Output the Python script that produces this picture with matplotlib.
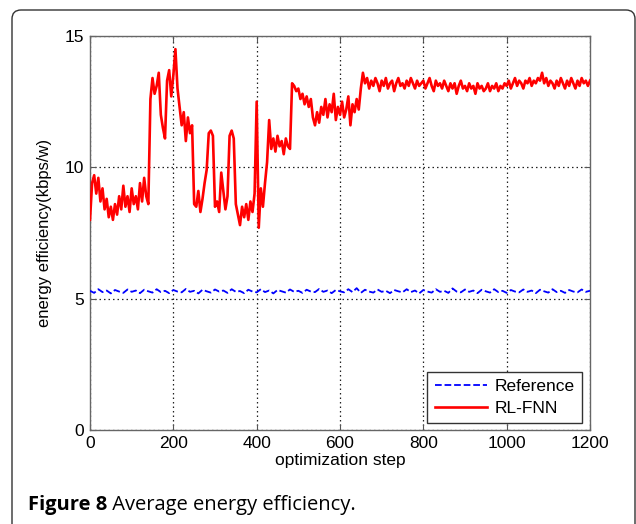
import numpy as np
import matplotlib
matplotlib.use("Agg")
import matplotlib.pyplot as plt
from matplotlib.patches import FancyBboxPatch
from matplotlib.transforms import IdentityTransform

# ---- data ----
red_steps = np.arange(0, 1201, 5)
rl_fnn = [
    8.0, 9.4, 9.7, 9.0, 9.6, 8.7, 9.2, 8.4, 8.8, 8.1,      # 0-45
    8.5, 8.0, 8.6, 8.2, 8.9, 8.4, 9.3, 8.5, 8.9, 8.3,      # 50-95
    9.2, 8.6, 8.9, 8.4, 9.4, 8.7, 9.6, 8.9, 8.6, 12.6,     # 100-145
    13.4, 12.8, 13.1, 13.6, 12.0, 11.5, 11.1, 13.3, 13.7, 12.7,  # 150-195
    13.5, 14.5, 13.0, 12.3, 11.6, 12.1, 11.0, 11.9, 11.3, 11.6,  # 200-245
    8.6, 8.5, 9.1, 8.3, 8.8, 9.4, 9.9, 11.3, 11.4, 11.2,   # 250-295
    8.5, 8.7, 8.3, 9.8, 9.1, 8.4, 8.9, 11.2, 11.4, 11.1,   # 300-345
    8.6, 8.2, 7.8, 8.5, 8.1, 8.6, 8.0, 8.7, 8.3, 9.0,      # 350-395
    12.5, 7.7, 9.2, 8.5, 9.4, 10.2, 11.8, 10.7, 11.1, 10.6,  # 400-445
    11.2, 10.8, 11.0, 10.5, 11.1, 10.8, 10.7, 13.2, 13.1, 12.9,  # 450-495
    13.0, 12.6, 12.8, 12.4, 12.7, 12.3, 12.6, 11.9, 11.6, 12.1,  # 500-545
    11.7, 12.3, 12.0, 12.6, 11.9, 12.4, 12.1, 12.8, 11.8, 12.3,  # 550-595
    12.0, 12.5, 11.9, 12.2, 12.7, 11.6, 12.4, 12.1, 12.6, 12.2,  # 600-645
    13.0, 13.6, 13.2, 13.4, 13.0, 13.3, 13.1, 13.4, 13.2, 12.9,  # 650-695
    13.3, 13.1, 13.4, 13.0, 13.2, 13.3, 12.9, 13.2, 13.4, 13.1,  # 700-745
    13.2, 13.0, 13.3, 13.1, 13.4, 13.2, 13.0, 13.3, 13.1, 13.2,  # 750-795
    13.3, 13.0, 13.2, 13.4, 13.1, 12.9, 13.3, 13.1, 13.2, 13.0,  # 800-845
    13.3, 13.1, 12.9, 13.2, 13.0, 13.2, 12.8, 13.1, 13.3, 13.0,  # 850-895
    13.1, 12.9, 13.2, 13.0, 13.1, 12.8, 13.2, 13.0, 13.1, 12.9,  # 900-945
    13.0, 13.2, 12.9, 13.1, 13.0, 13.2, 12.9, 13.1, 13.0, 13.2,  # 950-995
    13.1, 13.3, 13.0, 13.2, 13.4, 13.1, 13.3, 13.2, 13.0, 13.3,  # 1000-1045
    13.2, 13.4, 13.1, 13.3, 13.2, 13.4, 13.3, 13.6, 13.2, 13.4,  # 1050-1095
    13.1, 13.3, 13.2, 13.0, 13.3, 13.1, 13.4, 13.2, 13.0, 13.3,  # 1100-1145
    13.1, 13.4, 13.2, 13.0, 13.3, 13.1, 13.4, 13.2, 13.3, 13.1,  # 1150-1195
    13.3,                                                  # 1200
]

blue_steps = np.arange(0, 1201, 10)
reference = [
    5.30, 5.22, 5.36, 5.25, 5.31, 5.20, 5.33, 5.27, 5.22, 5.35,
    5.26, 5.31, 5.21, 5.34, 5.28, 5.23, 5.36, 5.25, 5.30, 5.21,
    5.33, 5.27, 5.24, 5.37, 5.26, 5.30, 5.20, 5.34, 5.28, 5.23,
    5.35, 5.27, 5.31, 5.22, 5.36, 5.26, 5.29, 5.21, 5.34, 5.27,
    5.24, 5.36, 5.25, 5.31, 5.20, 5.33, 5.28, 5.23, 5.35, 5.26,
    5.30, 5.22, 5.34, 5.27, 5.25, 5.37, 5.26, 5.31, 5.21, 5.33,
    5.28, 5.24, 5.36, 5.25, 5.40, 5.22, 5.34, 5.27, 5.23, 5.35,
    5.26, 5.30, 5.21, 5.33, 5.28, 5.24, 5.36, 5.25, 5.31, 5.20,
    5.33, 5.27, 5.23, 5.36, 5.26, 5.30, 5.22, 5.39, 5.27, 5.24,
    5.35, 5.26, 5.31, 5.21, 5.34, 5.28, 5.23, 5.36, 5.25, 5.30,
    5.22, 5.33, 5.27, 5.24, 5.35, 5.26, 5.31, 5.21, 5.34, 5.28,
    5.23, 5.36, 5.25, 5.30, 5.22, 5.33, 5.27, 5.24, 5.35, 5.26,
    5.30,
]

x_ticks = [0, 200, 400, 600, 800, 1000, 1200]
y_ticks = [0, 5, 10, 15]
x_label = "optimization step"
y_label = "energy efficiency(kbps/w)"
legend_labels = ["Reference", "RL-FNN"]
caption_bold = "Figure 8"
caption_rest = " Average energy efficiency."

# ---- figure ----
W, H, DPI = 636, 524, 100
fig = plt.figure(figsize=(W / DPI, H / DPI), dpi=DPI)
fig.patch.set_facecolor("white")

# rounded outer frame (pixel coordinates)
frame = FancyBboxPatch((12, -30), 623, 544,
                       boxstyle="round,pad=0,rounding_size=9",
                       transform=IdentityTransform(), fill=False,
                       edgecolor="#333333", linewidth=1.0, zorder=0)
fig.patches.append(frame)

ax = fig.add_axes([90 / W, 1 - 430 / H, 500 / W, 394 / H])
ax.plot(blue_steps, reference, color="#0000ff", linestyle="--",
        linewidth=1.3, label=legend_labels[0], zorder=3)
ax.plot(red_steps, rl_fnn, color="#ff0000", linestyle="-",
        linewidth=1.9, label=legend_labels[1], zorder=4)

ax.set_xlim(0, 1200)
ax.set_ylim(0, 15)
ax.set_xticks(x_ticks)
ax.set_yticks(y_ticks)

tick_font = dict(family="Liberation Sans", size=12.5)
ax.set_xticklabels([str(t) for t in x_ticks], **tick_font)
ax.set_yticklabels([str(t) for t in y_ticks], **tick_font)
ax.tick_params(direction="in", length=4, width=0.8, color="#555555",
               top=True, right=True, pad=4)
for s in ax.spines.values():
    s.set_color("#666666")
    s.set_linewidth(1.0)
ax.grid(True, color="#222222", linestyle=(0, (1.2, 2.4)), linewidth=0.9)
ax.set_axisbelow(True)

ax.set_xlabel(x_label, family="Liberation Sans", size=12.5, labelpad=2)
ax.set_ylabel(y_label, family="Liberation Sans", size=12, labelpad=9)

leg = ax.legend(loc="lower right", prop=dict(family="Liberation Sans", size=12.5),
                frameon=True, fancybox=False, edgecolor="#333333",
                framealpha=1, handlelength=3.0, borderpad=0.42,
                labelspacing=0.35, handletextpad=0.45, borderaxespad=0,
                bbox_to_anchor=(0.984, 0.018))
leg.get_frame().set_linewidth(1.0)

# caption
renderer = fig.canvas.get_renderer()
t1 = fig.text(28 / W, 1 - 510 / H, caption_bold, family="Open Sans",
              weight="bold", size=14.5, ha="left", va="baseline")
bb = t1.get_window_extent(renderer)
fig.text(bb.x1 / W, 1 - 510 / H, caption_rest, family="Open Sans",
         size=14.5, ha="left", va="baseline")

fig.savefig("out.png", dpi=DPI, facecolor="white")
